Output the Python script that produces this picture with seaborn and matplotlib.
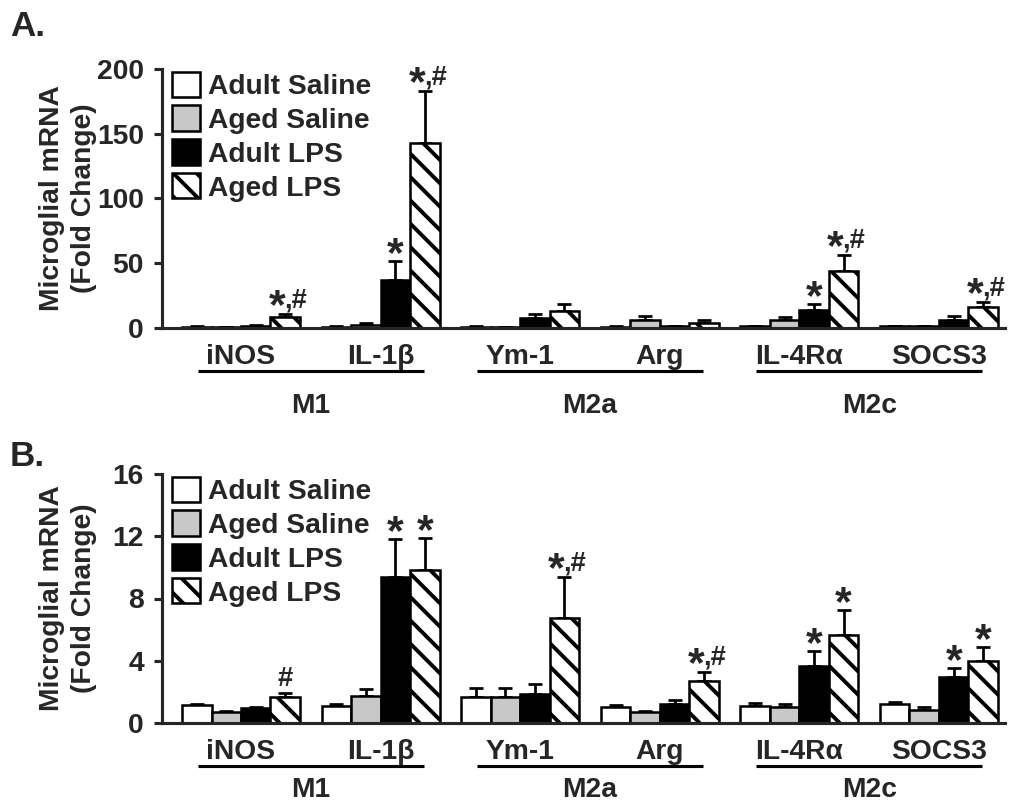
import numpy as np
import pandas as pd
import matplotlib
matplotlib.use("Agg")
import matplotlib.pyplot as plt
import seaborn as sns
from matplotlib import transforms

# ---------------- data ----------------
genes = ["iNOS", "IL-1β", "Ym-1", "Arg", "IL-4Rα", "SOCS3"]
groups = ["Adult Saline", "Aged Saline", "Adult LPS", "Aged LPS"]
phenotypes = ["M1", "M2a", "M2c"]
colors = ["white", "#c8c8c8", "black", "white"]

# Panel A (fold change) means and SEM
a_adult_saline = [1.0, 1.0, 1.0, 1.0, 1.5, 1.5]
a_aged_saline = [0.8, 2.5, 0.8, 6.5, 6.5, 1.2]
a_adult_lps = [1.5, 37.0, 7.5, 1.2, 14.0, 6.5]
a_aged_lps = [8.3, 143.0, 13.0, 4.0, 44.0, 16.0]
a_adult_saline_sem = [0.3, 0.3, 0.3, 0.3, 0.4, 0.4]
a_aged_saline_sem = [0.3, 1.5, 0.3, 2.5, 2.0, 0.4]
a_adult_lps_sem = [0.5, 15.0, 3.5, 0.5, 4.5, 2.5]
a_aged_lps_sem = [2.5, 40.0, 5.5, 1.8, 12.5, 4.0]

# Panel B (fold change) means and SEM
b_adult_saline = [1.15, 1.1, 1.65, 1.05, 1.1, 1.2]
b_aged_saline = [0.7, 1.75, 1.65, 0.7, 1.0, 0.85]
b_adult_lps = [0.95, 9.4, 1.85, 1.2, 3.65, 2.95]
b_aged_lps = [1.65, 9.8, 6.75, 2.7, 5.65, 4.0]
b_adult_saline_sem = [0.1, 0.15, 0.6, 0.1, 0.2, 0.15]
b_aged_saline_sem = [0.1, 0.45, 0.6, 0.08, 0.2, 0.15]
b_adult_lps_sem = [0.1, 2.4, 0.65, 0.3, 0.95, 0.6]
b_aged_lps_sem = [0.3, 2.1, 2.6, 0.6, 1.6, 0.9]

# significance marks: (gene, group, mark)
a_marks = [("iNOS", "Aged LPS", "*,#"), ("IL-1β", "Adult LPS", "*"),
           ("IL-1β", "Aged LPS", "*,#"), ("IL-4Rα", "Adult LPS", "*"),
           ("IL-4Rα", "Aged LPS", "*,#"), ("SOCS3", "Aged LPS", "*,#")]
b_marks = [("iNOS", "Aged LPS", "#"), ("IL-1β", "Adult LPS", "*"),
           ("IL-1β", "Aged LPS", "*"), ("Ym-1", "Aged LPS", "*,#"),
           ("Arg", "Aged LPS", "*,#"), ("IL-4Rα", "Adult LPS", "*"),
           ("IL-4Rα", "Aged LPS", "*"), ("SOCS3", "Adult LPS", "*"),
           ("SOCS3", "Aged LPS", "*")]

a_ticks = [0, 50, 100, 150, 200]
b_ticks = [0, 4, 8, 12, 16]

# ---------------- style ----------------
sns.set_style("ticks")
plt.rcParams["font.family"] = ["Liberation Sans", "DejaVu Sans"]
plt.rcParams["font.weight"] = "bold"
plt.rcParams["axes.labelweight"] = "bold"
plt.rcParams["hatch.linewidth"] = 2.0
plt.rcParams["hatch.color"] = "black"

DPI = 140
W, H = 1014, 804
fig = plt.figure(figsize=(W / DPI, H / DPI), dpi=DPI)
fig.patch.set_facecolor("white")

FS = 14.5
STAR_FS = 22
HASH_FS = 14


def build_df(means):
    rows = []
    for g, arr in zip(groups, means):
        for gene, v in zip(genes, arr):
            rows.append({"gene": gene, "group": g, "value": v})
    return pd.DataFrame(rows)


def panel(rect, means, sems, marks, ticks, letter, letter_y, line_off, lab_off):
    ax = fig.add_axes(rect)
    df = build_df(means)
    sns.barplot(data=df, x="gene", y="value", hue="group", order=genes,
                hue_order=groups, palette=dict(zip(groups, colors)),
                width=0.845, gap=0, errorbar=None, edgecolor="black",
                linewidth=1.3, saturation=1, legend=False, ax=ax, zorder=2)
    conts = list(ax.containers)[:4]
    for p in conts[3]:
        p.set_hatch("\\\\")
    # error bars (upper only)
    centers = {}
    for gi, (c, sem) in enumerate(zip(conts, sems)):
        xs = [p.get_x() + p.get_width() / 2 for p in c]
        ys = [p.get_height() for p in c]
        ax.errorbar(xs, ys, yerr=[np.zeros(len(sem)), sem], fmt="none",
                    ecolor="black", elinewidth=1.4, capsize=3.4,
                    capthick=1.4, zorder=1)
        for gene, x, y, s in zip(genes, xs, ys, sem):
            centers[(gene, groups[gi])] = (x, y + s)
    # marks
    for gene, grp, m in marks:
        x, ytop = centers[(gene, grp)]
        if m == "*":
            ax.annotate("*", (x, ytop), xytext=(0, -5), textcoords="offset pixels",
                        ha="center", va="baseline", fontsize=STAR_FS, annotation_clip=False)
        elif m == "#":
            ax.annotate("#", (x, ytop), xytext=(0, 7), textcoords="offset pixels",
                        ha="center", va="baseline", fontsize=HASH_FS, annotation_clip=False)
        else:
            ax.annotate("*", (x, ytop), xytext=(-8, -4), textcoords="offset pixels",
                        ha="center", va="baseline", fontsize=STAR_FS, annotation_clip=False)
            ax.annotate(",#", (x, ytop), xytext=(-1, 7), textcoords="offset pixels",
                        ha="left", va="baseline", fontsize=HASH_FS, annotation_clip=False)

    ax.set_xlim(-0.566, 5.473)
    ax.set_ylim(ticks[0], ticks[-1])
    ax.set_yticks(ticks)
    ax.set_yticklabels([str(t) for t in ticks])
    ax.set_xlabel("")
    ax.set_ylabel("Microglial mRNA\n(Fold Change)", fontsize=FS, linespacing=1.3,
                  fontweight="bold")
    ax.yaxis.set_label_coords(-0.077, 0.5)
    for s in ["top", "right"]:
        ax.spines[s].set_visible(False)
    for s in ["left", "bottom"]:
        ax.spines[s].set_linewidth(1.6)
    ax.tick_params(axis="y", length=4.3, width=1.6, labelsize=FS, pad=5, direction="out")
    ax.tick_params(axis="x", length=0, labelsize=FS, pad=8.3)

    # legend
    handles = [c.patches[0] for c in conts]
    h_px = rect[3] * H
    ax.legend(handles, groups, loc="upper left", bbox_to_anchor=(0.012, 1.0 - 2.5 / h_px),
              frameon=False, handlelength=1.0, handleheight=1.0,
              labelspacing=0.2, handletextpad=0.28, borderaxespad=0,
              borderpad=0, fontsize=FS)

    # phenotype brackets
    xt = ax.get_xticks()
    base = transforms.blended_transform_factory(ax.transData, ax.transAxes)
    line_tr = transforms.offset_copy(base, fig=fig, y=line_off, units="dots")
    lab_tr = transforms.offset_copy(base, fig=fig, y=lab_off, units="dots")
    for i, ph in enumerate(phenotypes):
        x0 = xt[2 * i] - 0.31
        x1 = xt[2 * i + 1] + 0.31
        ax.plot([x0, x1], [0, 0], transform=line_tr, color="black", lw=1.6,
                clip_on=False, solid_capstyle="butt")
        ax.text((x0 + x1) / 2, 0, ph, transform=lab_tr, ha="center",
                va="baseline", fontsize=FS)

    fig.text(10 / W, letter_y, letter, fontsize=18, ha="left", va="center")
    return ax


axA = panel([162 / W, 1 - 328 / H, 843 / W, 259 / H],
            [a_adult_saline, a_aged_saline, a_adult_lps, a_aged_lps],
            [a_adult_saline_sem, a_aged_saline_sem, a_adult_lps_sem, a_aged_lps_sem],
            a_marks, a_ticks, "A.", 1 - 27 / H, -43, -85)
axB = panel([162 / W, 1 - 723 / H, 843 / W, 249 / H],
            [b_adult_saline, b_aged_saline, b_adult_lps, b_aged_lps],
            [b_adult_saline_sem, b_aged_saline_sem, b_adult_lps_sem, b_aged_lps_sem],
            b_marks, b_ticks, "B.", 1 - 456 / H, -43, -74)

fig.savefig("out.png", dpi=DPI, facecolor="white")
